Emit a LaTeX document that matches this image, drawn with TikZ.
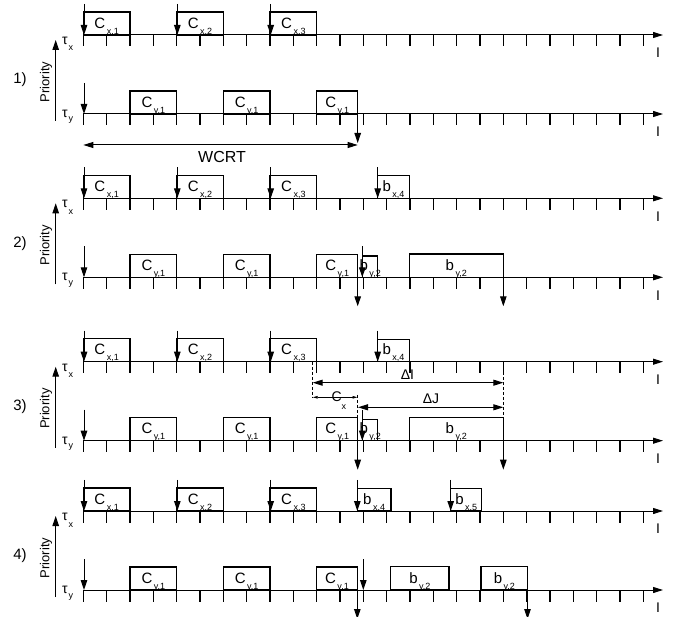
\documentclass[tikz,border=0pt]{standalone}
\usepackage{fontspec}
\setmainfont{Liberation Sans}
\usetikzlibrary{arrows.meta}
\newcommand\subfont{\fontsize{9}{9}\selectfont}
\tikzset{
  axisline/.style={line width=1pt,-{Triangle[length=10pt,width=6pt]}},
  tickmark/.style={line width=1.1pt},
  jobbox/.style={draw,line width=1.1pt},
  arr/.style={line width=1pt,-{Triangle[length=10pt,width=6.5pt]}},
  dblarr/.style={line width=1pt,{Triangle[length=10pt,width=6pt]}-{Triangle[length=10pt,width=6pt]}},
  smallarr/.style={line width=0.7pt,{Triangle[length=5pt,width=2.5pt]}-{Triangle[length=5pt,width=2.5pt]}},
  dashline/.style={line width=0.8pt,dash pattern=on 3pt off 2pt},
  joblab/.style={inner sep=0pt,anchor=base,font=\fontsize{15}{15}\selectfont},
  tlab/.style={inner sep=0pt,font=\fontsize{14}{14}\selectfont},
  taulab/.style={inner sep=0pt,anchor=base west,font=\fontsize{14}{14}\selectfont},
  tausub/.style={inner sep=0pt,anchor=base west,font=\fontsize{9}{9}\selectfont},
  prio/.style={inner sep=0pt,rotate=90,font=\fontsize{13}{13}\selectfont},
  numlab/.style={inner sep=0pt,font=\fontsize{15}{15}\selectfont},
  biglab/.style={inner sep=0pt,font=\fontsize{16}{16}\selectfont},
  dlab/.style={inner sep=0pt,anchor=base,font=\fontsize{14}{14}\selectfont},
}
% job box: name, x1, x2, axis y, letter, subscript, height
\newcommand\jobrect[7]{%
  \draw[jobbox] (#2,#4) rectangle (#3,{#4-#7});
  \node[joblab] (#1) at ({(#2+#3)/2},{#4-6.7}) {#5\hspace{1.5pt}\raisebox{-6pt}{\subfont #6}};
}
\newcommand\relarrow[2]{\draw[arr] (#1,{#2-31}) -- (#1,#2);}
\newcommand\resparrow[2]{\draw[arr] (#1,#2) -- (#1,{#2+29});}
% panel: axis y, number, prefix
\newcommand\panel[3]{%
  \draw[axisline] (83.33,#1) -- (663,#1);
  \draw[axisline] (83.33,{#1+79}) -- (663,{#1+79});
  \foreach \k in {0,...,24} {
    \draw[tickmark] ({83.33+23.333*\k},#1) -- ++(0,11.5);
    \draw[tickmark] ({83.33+23.333*\k},{#1+79}) -- ++(0,11.5);
  }
  \node[tlab] (#3ix) at (658,{#1+18}) {I};
  \node[tlab] (#3iy) at (658,{#1+97}) {I};
  \draw[arr] (55.7,{#1+86}) -- (55.7,{#1+5});
  \node[prio] (#3prio) at (46,{#1+47}) {Priority};
  \node[numlab] (#3num) at (20,{#1+45}) {#2)};
  \node[taulab] (#3tx) at (62,{#1+9.5}) {τ};
  \node[tausub] (#3txs) at (68.3,{#1+16}) {x};
  \node[taulab] (#3ty) at (62,{#1+82.5}) {τ};
  \node[tausub] (#3tys) at (68.3,{#1+87}) {y};
}
% common rows
\newcommand\xrow[2]{%
  \jobrect{#2xa}{83.33}{130}{#1}{C}{x,1}{23}
  \jobrect{#2xb}{176.67}{223.33}{#1}{C}{x,2}{23}
  \jobrect{#2xc}{270}{316.67}{#1}{C}{x,3}{23}
  \relarrow{84}{#1}
  \relarrow{177.3}{#1}
  \relarrow{270.7}{#1}
}
\newcommand\yrow[3]{%
  \jobrect{#2ya}{130}{176.67}{#1}{C}{y,1}{23}
  \jobrect{#2yb}{223.33}{270}{#1}{C}{y,1}{23}
  \jobrect{#2yc}{316.67}{#3}{#1}{C}{y,1}{23}
  \relarrow{84}{#1}
}
\begin{document}
\begin{tikzpicture}[x=1pt,y=-1pt]
\useasboundingbox (0,0) rectangle (683,617);

% ---------- Panel 1 ----------
\panel{35}{1}{pa}
\xrow{35}{pa}
\yrow{114}{pa}{357.7}
\resparrow{357.7}{114}
\coordinate (wa) at (83.33,145);
\coordinate (wb) at (357.7,145);
\draw[dblarr] (wa) -- (wb);
\node[biglab] (wcrt) at (222,157) {WCRT};

% ---------- Panel 2 ----------
\panel{198.3}{2}{pb}
\xrow{198.3}{pb}
\jobrect{pbxd}{377.7}{409.3}{198.3}{b}{x,4}{22.5}
\relarrow{377.7}{198.3}
\yrow{277.3}{pb}{357.7}
\jobrect{pbyd}{362.7}{377.7}{277.3}{b}{y,2}{21.3}
\jobrect{pbye}{409.3}{503.33}{277.3}{b}{y,2}{23.3}
\relarrow{362.3}{277.3}
\resparrow{357.7}{277.3}
\resparrow{503.33}{277.3}

% ---------- Panel 3 ----------
\panel{361.7}{3}{pc}
\xrow{361.7}{pc}
\jobrect{pcxd}{377.7}{409.3}{361.7}{b}{x,4}{22.5}
\relarrow{377.7}{361.7}
\yrow{440.7}{pc}{357.7}
\jobrect{pcyd}{362.7}{377.7}{440.7}{b}{y,2}{21.3}
\jobrect{pcye}{409.3}{503.33}{440.7}{b}{y,2}{23.3}
\resparrow{357.7}{440.7}
\resparrow{503.33}{440.7}
\draw[dashline] (312.7,361.7) -- (312.7,398.5);
\draw[dashline] (357.5,395) -- (357.5,417.7);
\draw[dashline] (503.33,372) -- (503.33,417.4);
\coordinate (dia) at (312.7,382.7);
\coordinate (dib) at (503.33,382.7);
\draw[dblarr] (dia) -- (dib);
\node[dlab] (dil) at (407.5,379.5) {ΔI};
\coordinate (cxa) at (312.7,397.3);
\coordinate (cxb) at (357.5,397.3);
\draw[smallarr] (cxa) -- (cxb);
\node[dlab] (cxl) at (336.7,402) {C};
\node[tausub] (cxs) at (341.5,409.3) {x};
\coordinate (dja) at (358,407.3);
\coordinate (djb) at (503.33,407.3);
\draw[dblarr] (dja) -- (djb);
\node[dlab] (djl) at (431,404) {ΔJ};
\draw[arr] (362.3,410) -- (362.3,440.7);

% ---------- Panel 4 ----------
\panel{511}{4}{pd}
\xrow{511}{pd}
\jobrect{pdxd}{357.3}{391}{511}{b}{x,4}{22.5}
\jobrect{pdxe}{450.7}{481.7}{511}{b}{x,5}{22.5}
\relarrow{357.3}{511}
\relarrow{450.7}{511}
\yrow{590}{pd}{357.3}
\jobrect{pdyd}{390.7}{449}{590}{b}{y,2}{23.3}
\jobrect{pdye}{481}{527.7}{590}{b}{y,2}{23.3}
\relarrow{363.3}{590}
\resparrow{357.3}{590}
\resparrow{527.5}{590}
\end{tikzpicture}
\end{document}
